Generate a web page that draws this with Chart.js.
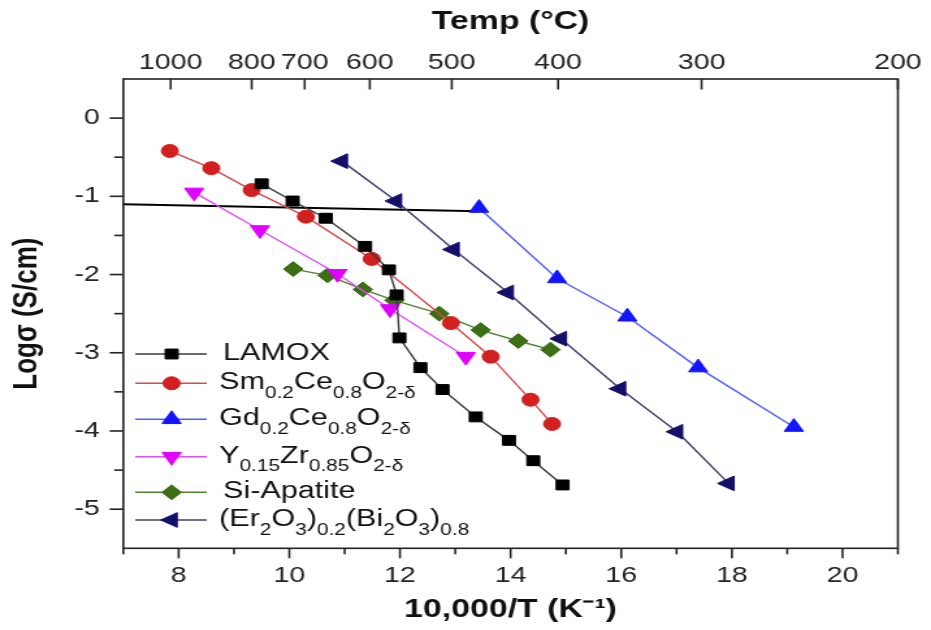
<!DOCTYPE html>
<html>
<head>
<meta charset="utf-8">
<title>Conductivity of oxide ion conductors</title>
<script src="https://cdn.jsdelivr.net/npm/chart.js@4.4.1/dist/chart.umd.min.js"></script>
<style>
  html, body { margin: 0; padding: 0; background: #fff; overflow: hidden; }
  /* the figure is drawn narrow and stretched sideways, like the printed plot */
  #wrap { width: 716px; height: 630px; transform: scaleX(1.3003); transform-origin: 0 0; }
</style>
</head>
<body>
<div id="wrap"><canvas id="myChart" width="716" height="630"></canvas></div>
<script>
// x = 10000/T (K^-1), y = log sigma (S/cm)
var lamoxX = [9.50, 10.06, 10.66, 11.37, 11.80, 11.94, 11.99, 12.37, 12.77, 13.37, 13.97, 14.41, 14.94];
var lamoxY = [-0.84, -1.06, -1.28, -1.64, -1.94, -2.26, -2.81, -3.19, -3.47, -3.82, -4.12, -4.38, -4.69];
var smX = [7.84, 8.59, 9.32, 10.30, 11.49, 12.92, 13.64, 14.36, 14.75];
var smY = [-0.42, -0.64, -0.92, -1.26, -1.80, -2.62, -3.05, -3.60, -3.91];
var gdX = [13.43, 14.84, 16.11, 17.39, 19.12];
var gdY = [-1.15, -2.05, -2.54, -3.19, -3.95];
var yszX = [8.28, 9.47, 10.87, 11.82, 13.19];
var yszY = [-0.95, -1.43, -1.99, -2.44, -3.05];
var siX = [10.07, 10.69, 11.33, 11.90, 12.71, 13.46, 14.14, 14.72];
var siY = [-1.93, -2.01, -2.19, -2.33, -2.50, -2.71, -2.85, -2.96];
var ebX = [10.95, 11.93, 12.97, 13.95, 14.91, 15.98, 17.01, 17.94];
var ebY = [-0.55, -1.06, -1.68, -2.23, -2.82, -3.46, -4.01, -4.67];
var guideX = [7, 13.43];
var guideY = [-1.10, -1.19];

// names, _{..} marks a subscript
var seriesNames = [
  "LAMOX",
  "Sm_{0.2}Ce_{0.8}O_{2-\u03b4}",
  "Gd_{0.2}Ce_{0.8}O_{2-\u03b4}",
  "Y_{0.15}Zr_{0.85}O_{2-\u03b4}",
  "Si-Apatite",
  "(Er_{2}O_{3})_{0.2}(Bi_{2}O_{3})_{0.8}"
];

var xTicks = [8, 10, 12, 14, 16, 18, 20];
var xMinor = [7, 9, 11, 13, 15, 17, 19, 21];
var yTicks = [0, -1, -2, -3, -4, -5];
var yMinor = [-0.5, -1.5, -2.5, -3.5, -4.5];
var tempLabels = [1000, 800, 700, 600, 500, 400, 300, 200];

var X_MIN = 7, X_MAX = 21;
// top axis: temperature in C placed at 10000/T, last one sits on the frame
var tempTickPos = tempLabels.map(function (t) { return Math.min(10000 / (t + 273), X_MAX); });

var FONT = "'Liberation Sans', Arial, sans-serif";
Chart.defaults.font.family = FONT;
Chart.defaults.color = '#222';

function pts(xs, ys) {
  return xs.map(function (x, i) { return { x: x, y: ys[i] }; });
}

function series(xs, ys, line, mark, style, r, rot) {
  return {
    data: pts(xs, ys),
    showLine: true,
    borderColor: line,
    borderWidth: 1.4,
    pointStyle: style,
    pointRadius: r,
    pointRotation: rot || 0,
    pointBackgroundColor: mark,
    pointBorderColor: mark,
    pointBorderWidth: 1
  };
}

// frame and tick marks (minor ticks shorter, top ticks point inward)
var axisFrame = {
  id: 'axisFrame',
  afterDraw: function (chart) {
    var ctx = chart.ctx, a = chart.chartArea;
    var sx = chart.scales.x, sy = chart.scales.y, st = chart.scales.x2;
    ctx.save();
    ctx.strokeStyle = '#222';
    ctx.lineWidth = 1.6;
    ctx.strokeRect(a.left, a.top, a.right - a.left, a.bottom - a.top);
    function tick(x1, y1, x2, y2) {
      ctx.beginPath(); ctx.moveTo(x1, y1); ctx.lineTo(x2, y2); ctx.stroke();
    }
    xTicks.forEach(function (v) { var p = sx.getPixelForValue(v); tick(p, a.bottom, p, a.bottom + 10); });
    xMinor.forEach(function (v) { var p = sx.getPixelForValue(v); tick(p, a.bottom, p, a.bottom + 6); });
    yTicks.forEach(function (v) { var p = sy.getPixelForValue(v); tick(a.left - 10.5, p, a.left, p); });
    yMinor.forEach(function (v) { var p = sy.getPixelForValue(v); tick(a.left - 7, p, a.left, p); });
    tempTickPos.forEach(function (v) { var p = st.getPixelForValue(v); tick(p, a.top, p, a.top + 10.5); });
    ctx.restore();
  }
};

// legend with subscripts
var richLegend = {
  id: 'richLegend',
  afterDraw: function (chart) {
    var ctx = chart.ctx;
    var rowY = [354, 383.3, 419.3, 456.7, 492.3, 520];
    seriesNames.forEach(function (name, i) {
      var ds = chart.data.datasets[i];
      var y = rowY[i];
      ctx.save();
      ctx.strokeStyle = ds.borderColor;
      ctx.lineWidth = ds.borderWidth;
      ctx.beginPath(); ctx.moveTo(104, y); ctx.lineTo(159, y); ctx.stroke();
      ctx.fillStyle = ds.pointBackgroundColor;
      ctx.strokeStyle = ds.pointBorderColor;
      ctx.lineWidth = 1;
      Chart.helpers.drawPoint(ctx, {
        pointStyle: ds.pointStyle, rotation: ds.pointRotation, radius: ds.pointRadius, borderWidth: 1
      }, 132, y);
      ctx.fillStyle = '#111';
      ctx.textBaseline = 'alphabetic';
      ctx.textAlign = 'left';
      var x = (name === 'LAMOX' || name === 'Si-Apatite') ? 171.5 : 168.5;
      name.split(/(_\{[^}]*\})/).forEach(function (part) {
        if (!part) return;
        var sub = part.indexOf('_{') === 0;
        var t = sub ? part.slice(2, -1) : part;
        ctx.font = (sub ? '16px ' : '23.5px ') + FONT;
        ctx.fillText(t, x, sub ? y + 14.5 : y + 6);
        x += ctx.measureText(t).width;
      });
      ctx.restore();
    });
  }
};

var chart = new Chart('myChart', {
  type: 'scatter',
  data: {
    datasets: [
      series(lamoxX, lamoxY, '#3a3a3a', '#000000', 'rect', 7),
      series(smX, smY, '#d84a4a', '#d21f1f', 'circle', 6.5),
      series(gdX, gdY, '#4f5fff', '#1414ff', 'triangle', 8.5),
      series(yszX, yszY, '#e04cff', '#e000ff', 'triangle', 8.5, 180),
      series(siX, siY, '#4f8433', '#3c6e14', 'rectRot', 7.5),
      series(ebX, ebY, '#403d6e', '#140f6a', 'triangle', 8.5, 270),
      {
        data: pts(guideX, guideY),
        showLine: true,
        borderColor: '#000',
        borderWidth: 2,
        pointRadius: 0
      }
    ]
  },
  options: {
    responsive: false,
    animation: false,
    devicePixelRatio: 1,
    layout: { padding: { top: 0, right: 25.5, bottom: 0, left: 0 } },
    plugins: { legend: { display: false }, tooltip: { enabled: false } },
    scales: {
      x: {
        type: 'linear', position: 'bottom', min: X_MIN, max: X_MAX,
        grid: { display: false, drawTicks: false },
        border: { display: false },
        afterBuildTicks: function (s) { s.ticks = xTicks.map(function (v) { return { value: v }; }); },
        afterFit: function (s) { s.height = 81.7; },
        ticks: { padding: 14, font: { size: 22 }, color: '#222', callback: function (v) { return String(v); } },
        title: {
          display: true, text: '10,000/T (K\u207b\u00b9)', color: '#111',
          font: { size: 26, weight: 'bold' }, padding: { top: 0, bottom: 5 }
        }
      },
      x2: {
        axis: 'x', type: 'linear', position: 'top', min: X_MIN, max: X_MAX,
        grid: { display: false, drawTicks: false },
        border: { display: false },
        afterBuildTicks: function (s) { s.ticks = tempTickPos.map(function (v) { return { value: v }; }); },
        afterFit: function (s) { s.height = 79; },
        ticks: {
          padding: 3.3, font: { size: 22 }, color: '#222', autoSkip: false, maxRotation: 0,
          callback: function (v, i) { return String(tempLabels[i]); }
        },
        title: {
          display: true, text: 'Temp (\u00b0C)', color: '#111',
          font: { size: 26, weight: 'bold' }, padding: { top: 6, bottom: 0 }
        }
      },
      y: {
        type: 'linear', position: 'left', min: -5.5, max: 0.5,
        grid: { display: false, drawTicks: false },
        border: { display: false },
        afterBuildTicks: function (s) { s.ticks = yTicks.map(function (v) { return { value: v }; }); },
        afterFit: function (s) { s.width = 94.85; },
        ticks: { padding: 18, font: { size: 22 }, color: '#222', callback: function (v) { return String(v); } },
        title: {
          display: true, text: 'Log\u03c3 (S/cm)', color: '#111',
          font: { size: 26, weight: 'bold' }, padding: { top: 5, bottom: 0 }
        }
      }
    }
  },
  plugins: [axisFrame, richLegend]
});
</script>
</body>
</html>
